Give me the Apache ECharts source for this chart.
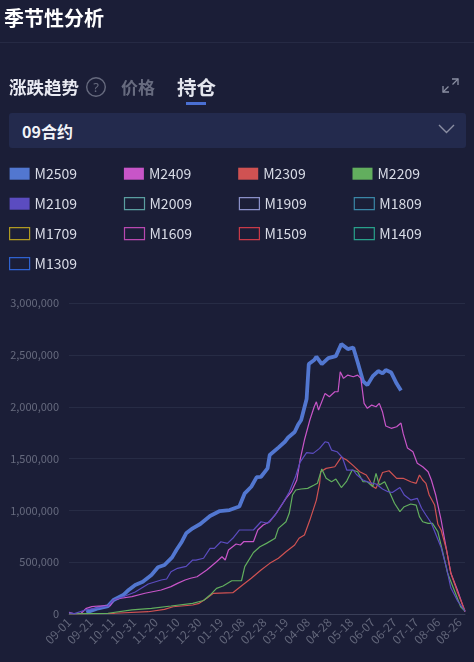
<!DOCTYPE html>
<html>
<head>
<meta charset="utf-8">
<script src="https://cdn.jsdelivr.net/npm/echarts@6/dist/echarts.min.js"></script>
<style>
  html, body { margin:0; padding:0; width:474px; height:662px; background:#1b1e37; overflow:hidden;
    font-family:"Noto Sans CJK SC","Noto Sans",sans-serif; }
  #chart { position:absolute; left:0; top:0; width:474px; height:662px; }
  .abs { position:absolute; white-space:nowrap; }
</style>
</head>
<body>
<div id="chart"></div>
<div class="abs" style="left:4px;top:6px;font-size:20px;line-height:24px;font-weight:bold;color:#ffffff;">季节性分析</div>
<div class="abs" style="left:0;top:42px;width:474px;height:1px;background:#262a44;"></div>
<div class="abs" style="left:9px;top:75px;font-size:17.5px;line-height:24px;font-weight:bold;color:#e9eaf2;">涨跌趋势</div>
<svg class="abs" style="left:85px;top:76px;" width="22" height="22" viewBox="0 0 22 22">
  <circle cx="11" cy="11" r="9.3" fill="none" stroke="#666a7e" stroke-width="1.4"/>
  <text x="11" y="15.5" text-anchor="middle" font-size="13" fill="#666a7e" font-family="Noto Sans">?</text>
</svg>
<div class="abs" style="left:121px;top:75px;font-size:17px;line-height:24px;font-weight:bold;color:#676b7f;">价格</div>
<div class="abs" style="left:177px;top:74px;font-size:19.5px;line-height:26px;font-weight:bold;color:#e4e6ee;">持仓</div>
<div class="abs" style="left:186px;top:102px;width:20px;height:3px;background:#4a6fd2;"></div>
<svg class="abs" style="left:440px;top:75px;" width="22" height="22" viewBox="0 0 22 22">
  <g fill="none" stroke="#8a8ea2" stroke-width="1.3">
    <polyline points="12,4 18,4 18,10"/>
    <line x1="18" y1="4" x2="12.5" y2="9.5"/>
    <polyline points="3,11 3,17 9,17"/>
    <line x1="3" y1="17" x2="8.5" y2="11.5"/>
  </g>
</svg>
<div class="abs" style="left:9px;top:113px;width:457px;height:35px;background:#232a4d;border-radius:3px;"></div>
<div class="abs" style="left:22px;top:119px;font-size:16px;line-height:24px;font-weight:bold;color:#f2f3f8;">09合约</div>
<svg class="abs" style="left:436px;top:122px;" width="22" height="14" viewBox="0 0 22 14">
  <polyline points="3,3 10.5,10.5 18,3" fill="none" stroke="#8a8ea2" stroke-width="1.4"/>
</svg>
<script>
// categories: every calendar day 09-01 .. 08-31 (leap-year calendar, includes 02-29)
const monthDays = [['09',30],['10',31],['11',30],['12',31],['01',31],['02',29],['03',31],['04',30],['05',31],['06',30],['07',31],['08',31]];
const dates = [];
monthDays.forEach(function(m){ for (let d = 1; d <= m[1]; d++) dates.push(m[0] + '-' + (d < 10 ? '0' + d : '' + d)); });

const seriesNames = ['M2509','M2409','M2309','M2209','M2109','M2009','M1909','M1809','M1709','M1609','M1509','M1409','M1309'];
const seriesColors = ['#5277d0','#c855c8','#d05252','#62ae5e','#5b4cc0','#5a9ea0','#8a90c8','#3a86a6','#b09a22','#b848b0','#c83a48','#28a08a','#2f62d0'];

// [day index from 09-01, open interest]
const s2509 = [[16,16000],[27,55000],[36,77000],[41,135000],[50,183000],[55,232000],[61,280000],[68,312000],[76,377000],[82,451000],[88,473000],[95,547000],[99,618000],[104,698000],[108,779000],[114,827000],[121,869000],[130,946000],[139,994000],[148,1004000],[157,1038000],[162,1165000],[168,1229000],[173,1322000],[177,1325000],[183,1406000],[185,1535000],[193,1607000],[199,1663000],[202,1704000],[208,1757000],[211,1824000],[214,1873000],[219,2075000],[221,2413000],[226,2452000],[228,2484000],[233,2413000],[239,2471000],[246,2490000],[251,2606000],[257,2558000],[262,2573000],[266,2433000],[271,2249000],[275,2210000],[280,2297000],[285,2346000],[289,2324000],[292,2355000],[297,2331000],[302,2225000],[306,2157000]];
const s2409 = [[0,15000],[4,3000],[11,5000],[16,55000],[21,71000],[27,77000],[38,80000],[41,135000],[48,152000],[58,168000],[70,200000],[85,232000],[94,264000],[100,296000],[107,328000],[112,345000],[118,360000],[127,425000],[136,505000],[141,553000],[144,521000],[147,618000],[154,676000],[158,666000],[161,698000],[170,698000],[174,811000],[179,859000],[185,891000],[191,972000],[200,1117000],[205,1181000],[210,1294000],[213,1487000],[217,1680000],[222,1873000],[226,2001000],[228,2049000],[230,1969000],[236,2130000],[240,2098000],[245,2146000],[248,2146000],[250,2339000],[253,2275000],[257,2307000],[262,2291000],[266,2307000],[269,2275000],[272,2034000],[275,1986000],[279,2017000],[283,2001000],[286,2034000],[289,1950000],[292,1815000],[297,1793000],[302,1808000],[306,1844000],[308,1744000],[312,1602000],[317,1567000],[321,1455000],[326,1422000],[331,1374000],[334,1294000],[338,1149000],[343,907000],[348,618000],[352,393000],[358,232000],[365,20000]];
const s2309 = [[0,2000],[42,7000],[73,22000],[88,45000],[96,70000],[114,87000],[120,103000],[127,152000],[133,200000],[151,206000],[160,280000],[168,345000],[177,425000],[185,489000],[193,538000],[200,601000],[208,666000],[212,731000],[217,763000],[222,907000],[228,1100000],[231,1262000],[232,1374000],[237,1406000],[245,1422000],[251,1515000],[256,1487000],[262,1433000],[268,1374000],[274,1342000],[277,1294000],[280,1231000],[283,1213000],[289,1366000],[295,1383000],[302,1310000],[308,1310000],[315,1277000],[320,1262000],[323,1342000],[326,1294000],[329,1262000],[332,1149000],[337,1052000],[340,866000],[343,811000],[348,618000],[352,393000],[358,212000],[365,29000]];
const s2209 = [[0,2000],[36,7000],[58,39000],[76,55000],[94,77000],[114,103000],[124,130000],[130,183000],[136,248000],[142,270000],[150,321000],[159,321000],[162,457000],[170,594000],[176,650000],[182,682000],[190,731000],[193,827000],[200,891000],[203,972000],[206,1149000],[209,1197000],[214,1207000],[220,1213000],[226,1245000],[229,1262000],[233,1400000],[237,1310000],[242,1277000],[246,1303000],[251,1221000],[256,1284000],[261,1390000],[266,1374000],[271,1277000],[275,1277000],[280,1229000],[283,1358000],[286,1245000],[291,1277000],[295,1187000],[300,1069000],[305,988000],[309,1036000],[315,1062000],[320,1052000],[323,940000],[326,891000],[331,875000],[335,875000],[340,794000],[344,618000],[349,393000],[355,232000],[361,70000],[365,29000]];
const s2109 = [[0,10000],[5,3000],[15,39000],[24,55000],[36,77000],[41,135000],[50,167000],[61,212000],[73,290000],[85,328000],[90,338000],[94,408000],[100,441000],[108,460000],[114,521000],[117,521000],[124,538000],[130,634000],[134,634000],[140,698000],[146,682000],[151,731000],[157,811000],[170,811000],[177,891000],[183,876000],[190,956000],[197,1069000],[203,1178000],[209,1332000],[213,1467000],[219,1559000],[225,1551000],[231,1599000],[236,1663000],[239,1655000],[242,1583000],[247,1567000],[252,1511000],[256,1390000],[262,1390000],[265,1347000],[271,1294000],[277,1269000],[283,1255000],[289,1207000],[294,1181000],[298,1173000],[305,1221000],[309,1149000],[315,1100000],[321,1117000],[325,1021000],[329,956000],[334,876000],[338,772000],[343,642000],[348,444000],[352,251000],[358,130000],[365,29000]];
const seriesData = [s2509, s2409, s2309, s2209, s2109, [], [], [], [], [], [], [], []];

const yMax = 3000000, yStep = 500000;
const font = '"Noto Sans CJK SC","Noto Sans",sans-serif';

const chart = echarts.init(document.getElementById('chart'), null, {renderer:'canvas'});
chart.setOption({
  backgroundColor: 'transparent',
  animation: false,
  legend: {
    left: 9, top: 163.7, width: 460, padding: 0,
    icon: 'rect', itemWidth: 20, itemHeight: 12, itemGap: 10,
    selectedMode: false,
    textStyle: { color: '#d8dbe6', fontSize: 14, fontFamily: font, width: 79.3, lineHeight: 20 },
    data: seriesNames.map(function(n, i){
      return i < 5
        ? { name: n, itemStyle: { color: seriesColors[i], borderWidth: 0 } }
        : { name: n, itemStyle: { color: 'transparent', borderColor: seriesColors[i], borderWidth: 1.2 } };
    })
  },
  grid: { left: 69, right: 9, top: 303.3, bottom: 48, containLabel: false },
  xAxis: {
    type: 'category', boundaryGap: false, data: dates,
    axisLine: { lineStyle: { color: '#3a3f58' } },
    axisTick: { show: false },
    axisLabel: { interval: 19, rotate: 45, color: '#62667a', fontSize: 12, fontFamily: font, margin: 6 }
  },
  yAxis: {
    type: 'value', min: 0, max: yMax, interval: yStep,
    axisLine: { show: false }, axisTick: { show: false },
    splitLine: { lineStyle: { color: '#272c45' } },
    axisLabel: { color: '#666a7e', fontSize: 11, fontFamily: font, margin: 10,
      formatter: function(v){ return v.toLocaleString('en-US'); } }
  },
  series: seriesNames.map(function(n, i){
    return {
      name: n, type: 'line', data: seriesData[i], symbol: 'none', showSymbol: false,
      color: seriesColors[i],
      lineStyle: { width: i === 0 ? 3.8 : 1.2, color: seriesColors[i] },
      emphasis: { disabled: true }
    };
  })
});
</script>
</body>
</html>
